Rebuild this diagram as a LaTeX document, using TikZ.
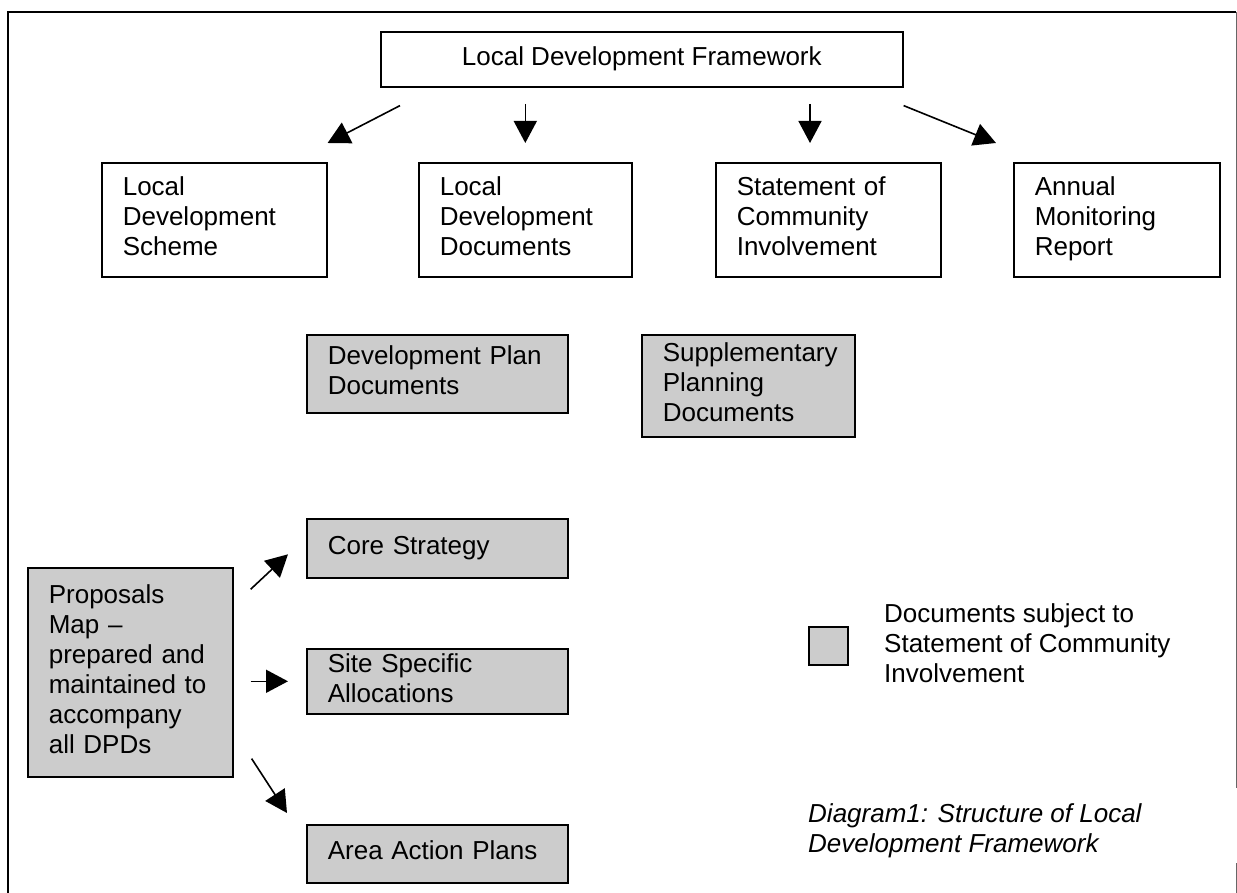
\documentclass[tikz,border=0pt]{standalone}
\usepackage{fontspec}
\setmainfont{Liberation Sans}
\usetikzlibrary{arrows.meta,calc}
\definecolor{boxgrey}{RGB}{204,204,204}
\begin{document}
\begin{tikzpicture}[x=1pt,y=-1pt,
  every node/.style={font=\fontsize{26}{30}\selectfont},
  box/.style={draw=black,line width=1.6pt,rectangle,anchor=north west,inner xsep=21pt,inner ysep=0pt,align=left,
    execute at begin node=\strut, execute at end node=\strut},
  greybox/.style={box,fill=boxgrey},
  arr/.style={line width=1.6pt,-{Triangle[length=22pt,width=23pt]}},
  frameline/.style={line width=2pt,black},
  thinframe/.style={line width=1pt,black!60}]
\useasboundingbox (0,0) rectangle (1237,893);
% outer frame
\draw[frameline] (1236,12) -- (8,12) -- (8,893);
\draw[thinframe] (1236,12) -- (1236,788);
\draw[thinframe] (1236,863) -- (1236,893);

% top
\node[box,minimum width=522pt,minimum height=55pt,align=center] (ldf) at (380,31) {Local Development Framework};

% row of boxes
\node[box,minimum width=225pt,minimum height=114pt,text width=183pt] (lds) at (101,162) {Local\\Development\\Scheme};
\node[box,minimum width=213pt,minimum height=114pt,text width=171pt] (ldd) at (418,162) {Local\\Development\\Documents};
\node[box,minimum width=225pt,minimum height=114pt,text width=183pt] (sci) at (715,162) {Statement of\\Community\\Involvement};
\node[box,minimum width=206pt,minimum height=114pt,text width=164pt] (amr) at (1013,162) {Annual\\Monitoring\\Report};

% arrows from LDF
\draw[arr] ($(ldf.south west)+(20,18)$) -- ($(lds.north east)+(0,-19)$);
\draw[arr] ($(ldd.north)+(0,-58)$) -- ($(ldd.north)+(0,-19)$);
\draw[arr] ($(sci.north west)+(95,-58)$) -- ($(sci.north west)+(95,-19)$);
\draw[arr] ($(ldf.south east)+(0,18)$) -- ($(amr.north west)+(-17,-19)$);

% grey boxes
\node[greybox,minimum width=261pt,minimum height=78pt,text width=219pt] (dpd) at (306,334) {Development Plan\\Documents};
\node[greybox,minimum width=213pt,minimum height=102pt,text width=171pt] (spd) at (641,334) {Supplementary\\Planning\\Documents};
\node[greybox,minimum width=261pt,minimum height=59pt,text width=219pt] (cs) at (306,518) {Core Strategy};
\node[greybox,minimum width=261pt,minimum height=65pt,text width=219pt] (ssa) at (306,648) {Site Specific\\Allocations};
\node[greybox,minimum width=261pt,minimum height=58pt,text width=219pt] (aap) at (306,824) {Area Action Plans};
\node[greybox,minimum width=205pt,minimum height=209pt,text width=163pt] (pm) at (27,567) {Proposals\\Map --\\prepared and\\maintained to\\accompany\\all DPDs};

% arrows from proposals map
\draw[arr] ($(pm.east)+(17,-83)$) -- ($(cs.west)+(-18,6)$);
\draw[arr] ($(pm.east)+(17,9)$) -- ($(ssa.west)+(-18,0)$);
\draw[arr] ($(pm.south east)+(18,-19)$) -- ($(aap.north west)+(-19,-11)$);

% legend
\node[draw=black,line width=1.6pt,fill=boxgrey,minimum width=39pt,minimum height=38pt,inner sep=0pt,anchor=north west] (leg) at (808,626) {};
\node[anchor=base west,align=left,inner sep=0pt] (legtext) at (884,682) {Documents subject to\\Statement of Community\\Involvement};

% caption
\node[anchor=base west,align=left,inner sep=0pt,font=\fontsize{26}{30}\selectfont\itshape] (cap) at (808,852) {Diagram1: Structure of Local\\Development Framework};
\end{tikzpicture}
\end{document}
